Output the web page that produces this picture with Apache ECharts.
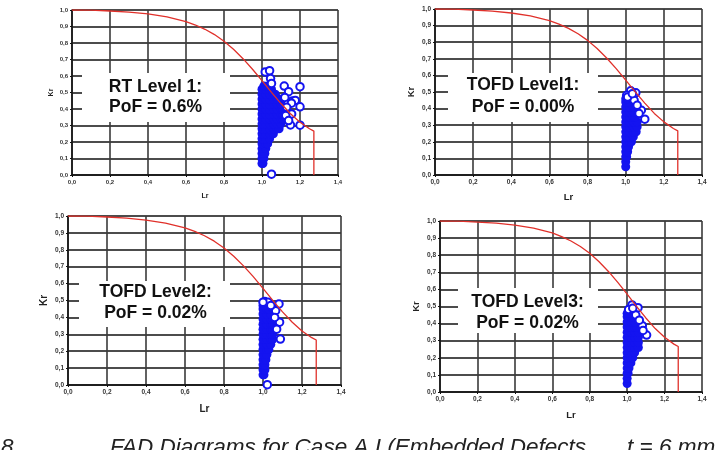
<!DOCTYPE html>
<html>
<head>
<meta charset="utf-8">
<script src="https://cdn.jsdelivr.net/npm/echarts@6/dist/echarts.min.js"></script>
<style>
  html, body { margin: 0; padding: 0; background: #fff; }
  #chart { width: 717px; height: 450px; }
</style>
</head>
<body>
<div id="chart"></div>
<script>
// FAD curve (Lr, Kr), with the Lr max cut-off
const lrCurve = [0, 0.1, 0.2, 0.3, 0.4, 0.5, 0.6, 0.65, 0.7, 0.75, 0.8, 0.85, 0.9, 0.95, 1.0, 1.05, 1.1, 1.15, 1.2, 1.25, 1.273, 1.273]
const krCurve = [1.0, 0.999, 0.994, 0.987, 0.976, 0.958, 0.930, 0.909, 0.883, 0.851, 0.811, 0.762, 0.705, 0.641, 0.572, 0.501, 0.433, 0.371, 0.320, 0.280, 0.266, 0]

const xTicks = [0, 0.2, 0.4, 0.6, 0.8, 1.0, 1.2, 1.4]
const yTicks = [0, 0.1, 0.2, 0.3, 0.4, 0.5, 0.6, 0.7, 0.8, 0.9, 1.0]

// RT level 1 - dense cloud and the scattered points
const rtCore = [
  [1.00, 0.07], [1.005, 0.07],
  [1.00, 0.10], [1.01, 0.10],
  [1.00, 0.13], [1.015, 0.13],
  [1.00, 0.16], [1.02, 0.16],
  [1.00, 0.19], [1.02, 0.19], [1.03, 0.19],
  [1.00, 0.22], [1.02, 0.22], [1.04, 0.22],
  [1.00, 0.25], [1.02, 0.25], [1.04, 0.25], [1.06, 0.25],
  [1.00, 0.28], [1.02, 0.28], [1.04, 0.28], [1.06, 0.28], [1.08, 0.28], [1.09, 0.28],
  [1.00, 0.31], [1.02, 0.31], [1.04, 0.31], [1.06, 0.31], [1.08, 0.31], [1.10, 0.31],
  [1.00, 0.34], [1.02, 0.34], [1.04, 0.34], [1.06, 0.34], [1.08, 0.34], [1.10, 0.34], [1.11, 0.34],
  [1.00, 0.37], [1.02, 0.37], [1.04, 0.37], [1.06, 0.37], [1.08, 0.37], [1.10, 0.37], [1.11, 0.37],
  [1.00, 0.40], [1.02, 0.40], [1.04, 0.40], [1.06, 0.40], [1.08, 0.40], [1.10, 0.40], [1.11, 0.40],
  [1.00, 0.43], [1.02, 0.43], [1.04, 0.43], [1.06, 0.43], [1.08, 0.43], [1.10, 0.43],
  [1.00, 0.46], [1.02, 0.46], [1.04, 0.46], [1.06, 0.46], [1.08, 0.46], [1.09, 0.46],
  [1.00, 0.49], [1.02, 0.49], [1.04, 0.49], [1.06, 0.49], [1.07, 0.49],
  [1.00, 0.52], [1.02, 0.52], [1.04, 0.52], [1.05, 0.52],
  [1.01, 0.54], [1.03, 0.54]
]
const rtOutliers = [
  [1.017, 0.625], [1.04, 0.632], [1.045, 0.585], [1.05, 0.555], [1.117, 0.539],
  [1.14, 0.505], [1.20, 0.535], [1.16, 0.449], [1.175, 0.452], [1.155, 0.435],
  [1.20, 0.413], [1.156, 0.37], [1.15, 0.303], [1.20, 0.302], [1.05, 0.005],
  [1.125, 0.36], [1.13, 0.41], [1.12, 0.47], [1.14, 0.33]
]

// TOFD level 1
const tofd1Core = [
  [1.00, 0.05],
  [1.00, 0.08],
  [1.00, 0.11], [1.005, 0.11],
  [1.00, 0.14], [1.01, 0.14],
  [1.00, 0.17], [1.015, 0.17],
  [1.00, 0.20], [1.02, 0.20], [1.03, 0.20],
  [1.00, 0.23], [1.02, 0.23], [1.04, 0.23],
  [1.00, 0.26], [1.02, 0.26], [1.04, 0.26], [1.055, 0.26],
  [1.00, 0.29], [1.02, 0.29], [1.04, 0.29], [1.06, 0.29],
  [1.00, 0.32], [1.02, 0.32], [1.04, 0.32], [1.06, 0.32],
  [1.00, 0.35], [1.02, 0.35], [1.04, 0.35], [1.05, 0.35],
  [1.00, 0.38], [1.02, 0.38], [1.04, 0.38],
  [1.00, 0.41], [1.02, 0.41], [1.04, 0.41],
  [1.00, 0.44], [1.02, 0.44],
  [1.00, 0.46], [1.01, 0.46]
]
const tofd1Outliers = [
  [1.026, 0.507], [1.005, 0.48], [1.053, 0.495], [1.044, 0.45], [1.082, 0.39],
  [1.10, 0.336], [1.01, 0.47], [1.035, 0.49], [1.07, 0.37], [1.06, 0.42]
]

// TOFD level 2
const tofd2Core = [
  [1.00, 0.06], [1.005, 0.06],
  [1.00, 0.09], [1.01, 0.09],
  [1.00, 0.12], [1.01, 0.12],
  [1.00, 0.15], [1.015, 0.15],
  [1.00, 0.18], [1.02, 0.18],
  [1.00, 0.21], [1.02, 0.21], [1.03, 0.21],
  [1.00, 0.24], [1.02, 0.24], [1.04, 0.24],
  [1.00, 0.27], [1.02, 0.27], [1.04, 0.27], [1.05, 0.27],
  [1.00, 0.30], [1.02, 0.30], [1.04, 0.30], [1.05, 0.30],
  [1.00, 0.33], [1.02, 0.33], [1.04, 0.33], [1.05, 0.33],
  [1.00, 0.36], [1.02, 0.36], [1.04, 0.36], [1.05, 0.36],
  [1.00, 0.39], [1.02, 0.39], [1.04, 0.39], [1.05, 0.39],
  [1.00, 0.42], [1.02, 0.42], [1.04, 0.42],
  [1.00, 0.45], [1.02, 0.45], [1.03, 0.45],
  [1.00, 0.47], [1.01, 0.47]
]
const tofd2Outliers = [
  [1.009, 0.494], [1.026, 0.49], [1.082, 0.48], [1.05, 0.455], [1.065, 0.44],
  [1.085, 0.372], [1.089, 0.272], [1.022, 0.002], [1.04, 0.47], [1.06, 0.40],
  [1.07, 0.33], [1.00, 0.49]
]

// TOFD level 3
const tofd3Core = [
  [1.00, 0.05],
  [1.00, 0.08],
  [1.00, 0.11], [1.005, 0.11],
  [1.00, 0.14], [1.01, 0.14],
  [1.00, 0.17], [1.02, 0.17],
  [1.00, 0.20], [1.02, 0.20], [1.03, 0.20],
  [1.00, 0.23], [1.02, 0.23], [1.04, 0.23],
  [1.00, 0.26], [1.02, 0.26], [1.04, 0.26], [1.06, 0.26],
  [1.00, 0.29], [1.02, 0.29], [1.04, 0.29], [1.06, 0.29],
  [1.00, 0.32], [1.02, 0.32], [1.04, 0.32], [1.06, 0.32],
  [1.00, 0.35], [1.02, 0.35], [1.04, 0.35], [1.06, 0.35],
  [1.00, 0.38], [1.02, 0.38], [1.04, 0.38], [1.05, 0.38],
  [1.00, 0.41], [1.02, 0.41], [1.04, 0.41],
  [1.00, 0.44], [1.02, 0.44], [1.03, 0.44],
  [1.00, 0.46], [1.01, 0.46]
]
const tofd3Outliers = [
  [1.026, 0.509], [1.008, 0.483], [1.058, 0.493], [1.046, 0.45], [1.081, 0.388],
  [1.104, 0.333], [1.085, 0.36], [1.03, 0.49], [1.065, 0.42]
]

const labels = [
  ['RT Level 1:', 'PoF = 0.6%'],
  ['TOFD Level1:', 'PoF = 0.00%'],
  ['TOFD Level2:', 'PoF = 0.02%'],
  ['TOFD Level3:', 'PoF = 0.02%']
]
const captionNo = '8'
const captionParts = ['FAD Diagrams for Case A.I (Embedded Defects,', 't = 6 mm)']

// layout of the four panels
const panels = [
  { grid: { left: 72, top: 10, width: 266, height: 165 }, core: rtCore, outliers: rtOutliers,
    box: [82, 73, 148, 49], textX: 155.5, textY: [87, 107], nameSize: 7, tickSize: 6, xGap: 18, yGap: 17 },
  { grid: { left: 435, top: 9, width: 267, height: 166 }, core: tofd1Core, outliers: tofd1Outliers,
    box: [448, 73, 150, 49], textX: 523, textY: [85, 107], nameSize: 9.5, tickSize: 6.5, xGap: 17, yGap: 19 },
  { grid: { left: 68, top: 216, width: 273, height: 169 }, core: tofd2Core, outliers: tofd2Outliers,
    box: [79, 281, 151, 46], textX: 155.5, textY: [292, 313], nameSize: 10, tickSize: 6.5, xGap: 19, yGap: 19 },
  { grid: { left: 440, top: 221, width: 262, height: 171 }, core: tofd3Core, outliers: tofd3Outliers,
    box: [458, 288, 140, 45], textX: 527.5, textY: [302, 323], nameSize: 9.5, tickSize: 6.5, xGap: 18, yGap: 19 }
]

const font = '"Liberation Sans", Arial, sans-serif'
const blue = '#1414f0'
const fmt = (v) => v.toFixed(1).replace('.', ',')

const curve = lrCurve.map((x, i) => [x, krCurve[i]])

const grid = []
const xAxis = []
const yAxis = []
const series = []
const graphic = []

panels.forEach((p, i) => {
  grid.push(Object.assign({ containLabel: false }, p.grid))

  xAxis.push({
    type: 'value', gridIndex: i, min: xTicks[0], max: xTicks[xTicks.length - 1], interval: 0.2,
    name: 'Lr', nameLocation: 'middle', nameGap: p.xGap,
    nameTextStyle: { fontFamily: font, fontWeight: 'bold', fontSize: p.nameSize, color: '#222' },
    axisLine: { show: true, onZero: false, lineStyle: { color: '#111', width: 1.5 } },
    axisTick: { show: true, length: 2, lineStyle: { color: '#111' } },
    axisLabel: { formatter: fmt, fontFamily: font, fontWeight: 'bold', fontSize: p.tickSize, color: '#333', margin: 4 },
    splitLine: { show: true, lineStyle: { color: '#3a3a3a', width: 1.6 } }
  })
  yAxis.push({
    type: 'value', gridIndex: i, min: yTicks[0], max: yTicks[yTicks.length - 1], interval: 0.1,
    name: 'Kr', nameLocation: 'middle', nameGap: p.yGap, nameRotate: 90,
    nameTextStyle: { fontFamily: font, fontWeight: 'bold', fontSize: p.nameSize, color: '#222' },
    axisLine: { show: true, onZero: false, lineStyle: { color: '#111', width: 1.5 } },
    axisTick: { show: true, length: 2, lineStyle: { color: '#111' } },
    axisLabel: { formatter: fmt, fontFamily: font, fontWeight: 'bold', fontSize: p.tickSize, color: '#333', margin: 4 },
    splitLine: { show: true, lineStyle: { color: '#111', width: 1.6 } }
  })

  // dense cloud: overlapping filled dots, no border
  series.push({
    type: 'scatter', xAxisIndex: i, yAxisIndex: i, data: p.core,
    symbol: 'circle', symbolSize: 9,
    itemStyle: { color: blue, opacity: 1, borderWidth: 0, borderColor: blue },
    emphasis: { disabled: true }, silent: true, z: 3
  })
  series.push({
    type: 'scatter', xAxisIndex: i, yAxisIndex: i, data: p.outliers,
    symbol: 'emptyCircle', symbolSize: 7.5,
    itemStyle: { color: blue, borderColor: blue, borderWidth: 1.3, opacity: 1 },
    emphasis: { disabled: true }, silent: true, z: 3
  })
  series.push({
    type: 'line', xAxisIndex: i, yAxisIndex: i, data: curve, showSymbol: false,
    lineStyle: { color: '#e0302a', width: 1.3 }, silent: true, z: 4
  })

  // white label box over the grid
  graphic.push({
    type: 'rect', z: 100,
    shape: { x: p.box[0], y: p.box[1], width: p.box[2], height: p.box[3] },
    style: { fill: '#fff' }
  })
  labels[i].forEach((t, k) => {
    graphic.push({
      type: 'text', z: 101,
      style: { text: t, x: p.textX, y: p.textY[k], align: 'center', verticalAlign: 'middle',
        font: 'bold 17.5px ' + font, fill: '#111' }
    })
  })
})

// figure caption, cut by the bottom edge as in the source
const capFont = 'italic 22.5px ' + font
graphic.push({
  type: 'text', z: 101,
  style: { text: captionNo, x: 1, y: 436, verticalAlign: 'top', font: capFont, fill: '#222' }
})
graphic.push({
  type: 'text', z: 101,
  style: { text: captionParts[0], x: 110, y: 436, verticalAlign: 'top', font: capFont, fill: '#222' }
})
graphic.push({
  type: 'text', z: 101,
  style: { text: captionParts[1], x: 627, y: 436, verticalAlign: 'top', font: capFont, fill: '#222' }
})

const chart = echarts.init(document.getElementById('chart'), null, { renderer: 'canvas' })
chart.setOption({
  animation: false,
  backgroundColor: '#fff',
  grid,
  xAxis,
  yAxis,
  series,
  graphic
})
</script>
</body>
</html>
